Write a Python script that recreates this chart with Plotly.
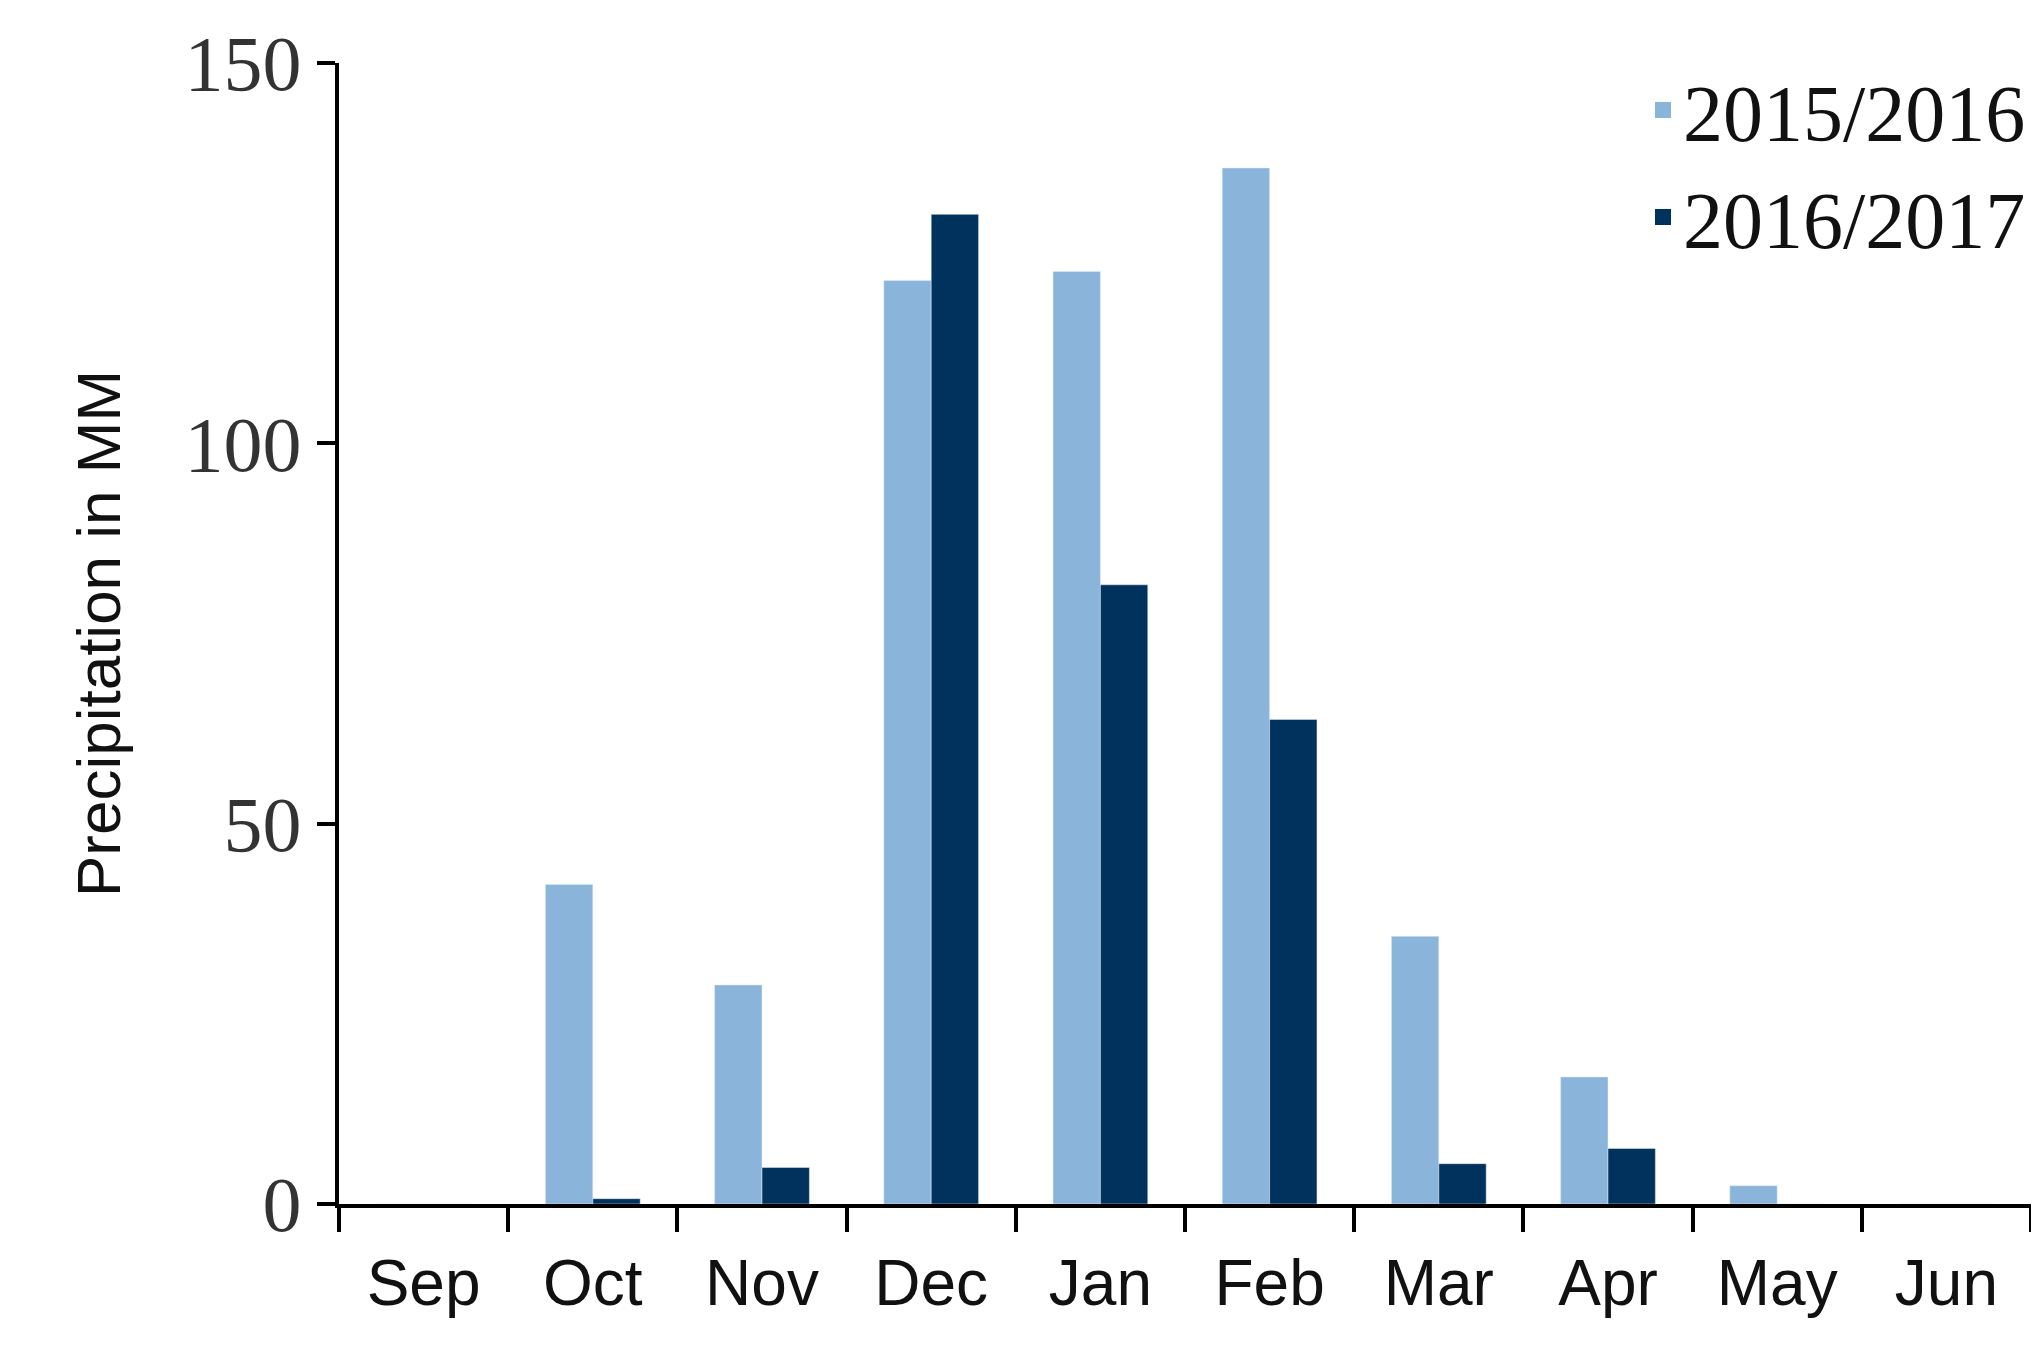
import plotly.graph_objects as go

months = ["Sep", "Oct", "Nov", "Dec", "Jan", "Feb", "Mar", "Apr", "May", "Jun"]
s2015 = [0, 42, 28.8, 121.4, 122.6, 136.2, 35.2, 16.7, 2.4, 0]
s2016 = [0, 0.7, 4.8, 130.1, 81.4, 63.7, 5.3, 7.3, 0, 0]
yticks = [0, 50, 100, 150]
names = ["2015/2016", "2016/2017"]
colors = ["#8AB4DA", "#00325E"]

fig = go.Figure()
for nm, vals, c in zip(names, [s2015, s2016], colors):
    fig.add_bar(x=months, y=vals, name=nm, marker_color=c, showlegend=False)
    fig.add_scatter(x=[None], y=[None], mode="markers", name=nm,
                    marker=dict(symbol="square", size=42, color=c))

fig.update_layout(
    width=2039, height=1356,
    paper_bgcolor="white", plot_bgcolor="white",
    barmode="group", bargap=0.44, bargroupgap=0,
    margin=dict(l=331, r=16, t=48, b=160),
    legend=dict(x=1, y=1.01, xanchor="right", yanchor="top",
                font=dict(family="Liberation Serif", size=80, color="#111"),
                itemsizing="trace", tracegroupgap=30, bgcolor="rgba(0,0,0,0)"),
    xaxis=dict(showline=True, linecolor="black", linewidth=4,
               ticks="outside", ticklen=24, tickwidth=4, tickcolor="black",
               tickson="boundaries", ticklabelstandoff=20,
               tickfont=dict(family="Liberation Sans", size=64, color="#111")),
    yaxis=dict(range=[0, 150], tickvals=yticks, showline=True, linecolor="black",
               linewidth=4, ticks="outside", ticklen=18, tickwidth=4, tickcolor="black",
               showgrid=False, zeroline=False,
               tickfont=dict(family="Liberation Serif", size=78, color="#333"),
               title=dict(text="Precipitation in MM", standoff=45,
                          font=dict(family="Liberation Sans", size=62, color="#111"))),
)
fig.write_html("out.html")
